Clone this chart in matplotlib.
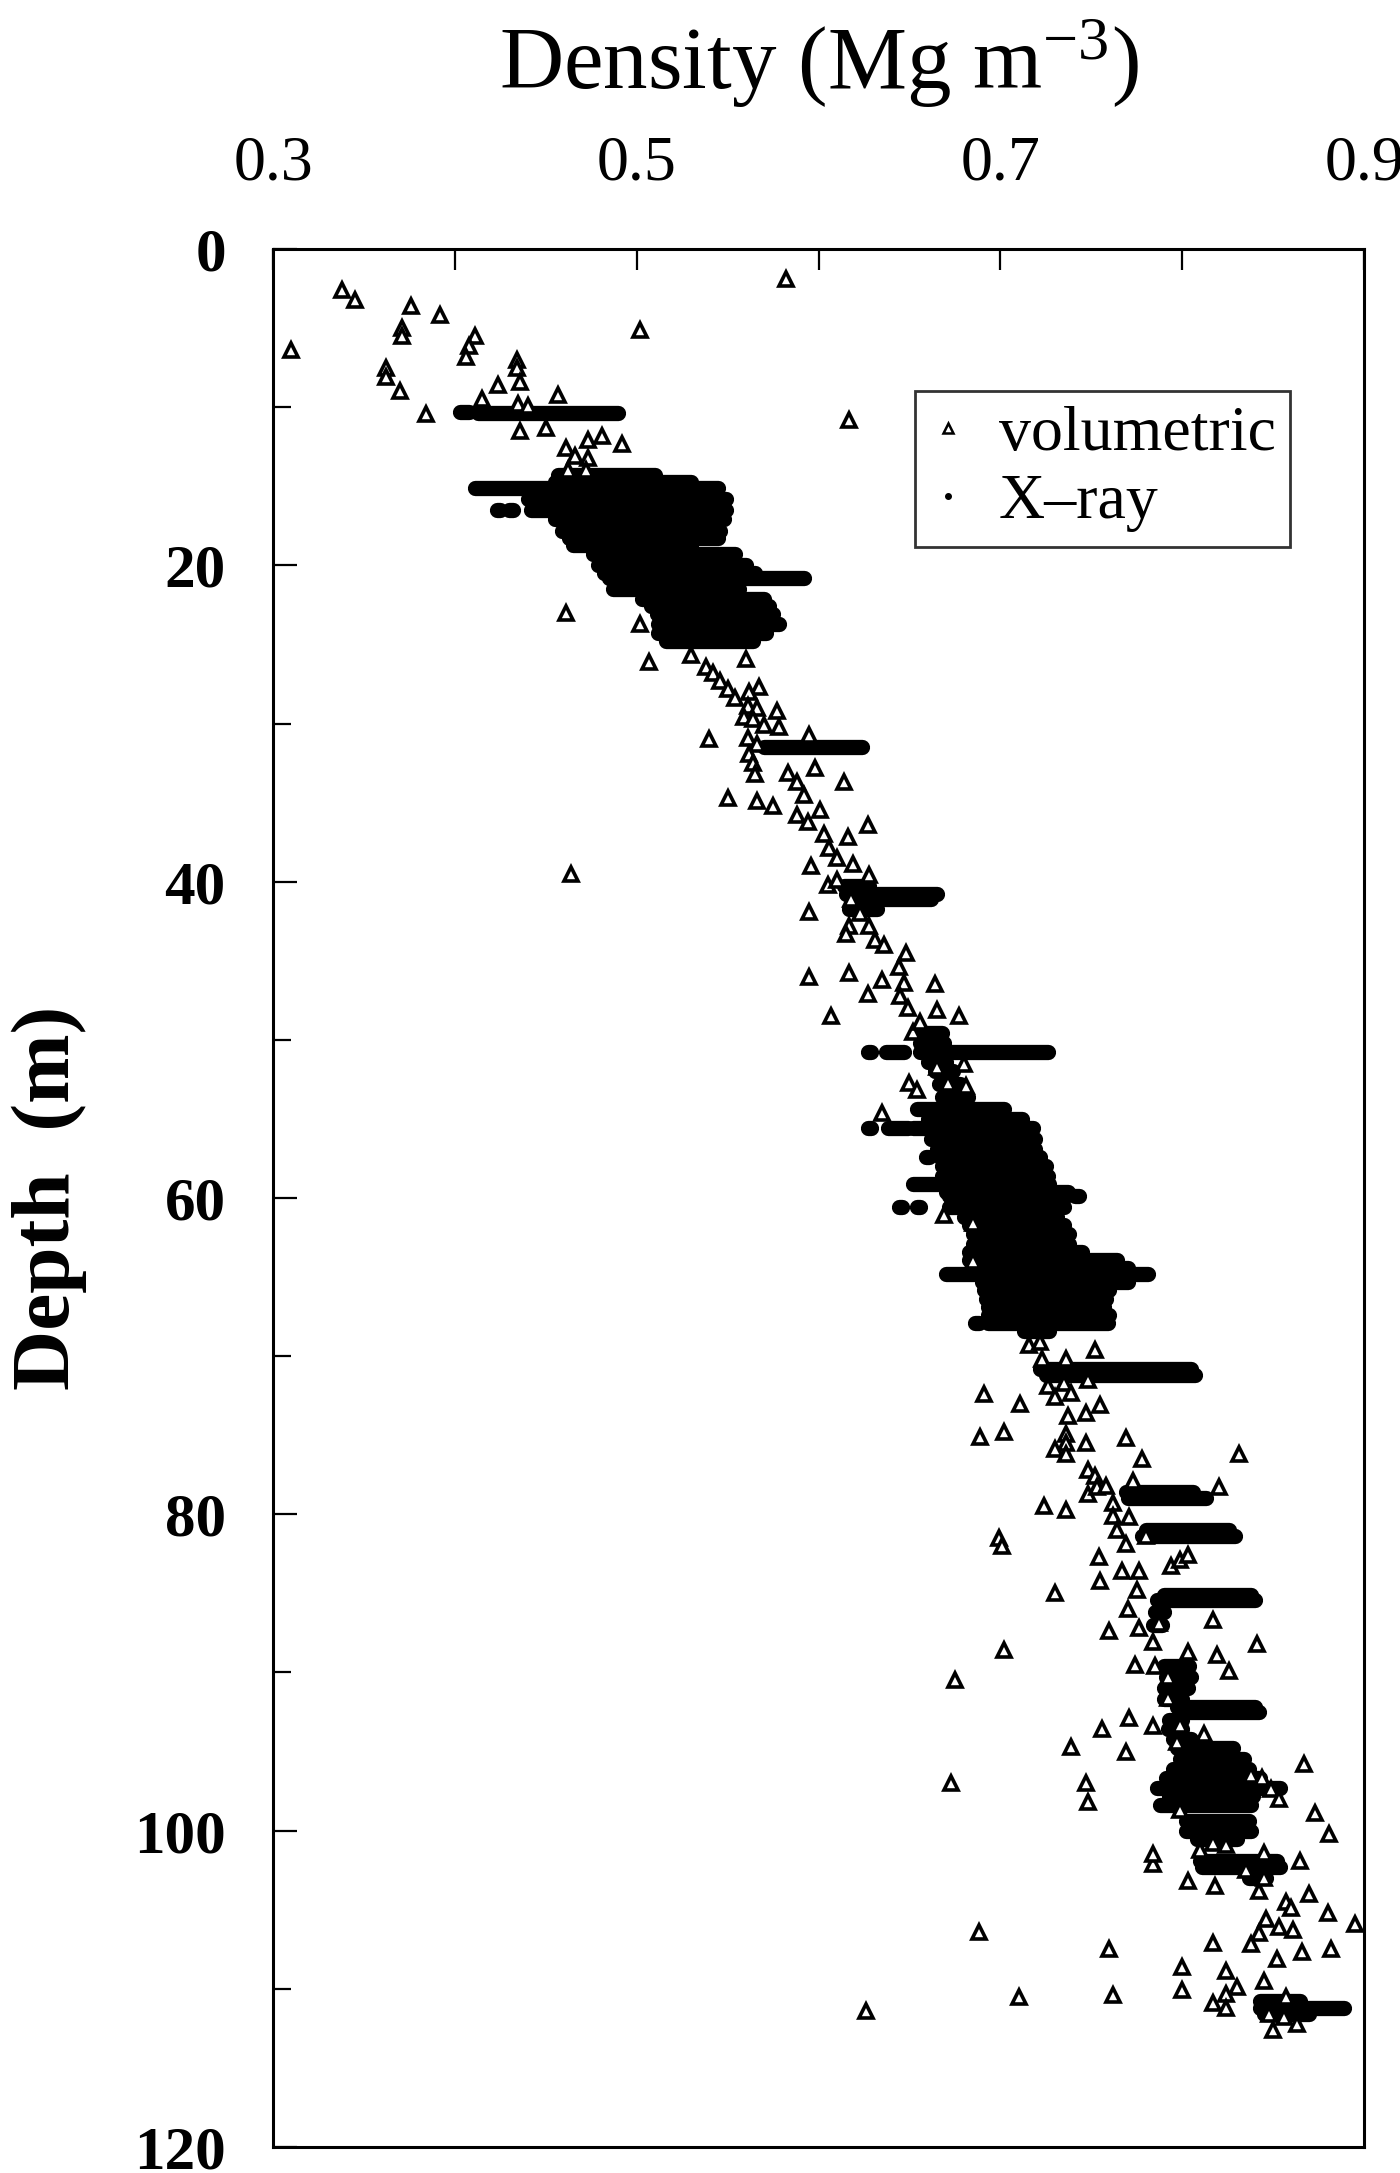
import matplotlib
matplotlib.use("Agg")
import matplotlib.pyplot as plt
from matplotlib.lines import Line2D

plt.rcParams["font.family"] = ["Liberation Serif", "DejaVu Serif"]
plt.rcParams["mathtext.fontset"] = "custom"
plt.rcParams["mathtext.rm"] = "Liberation Serif"
plt.rcParams["mathtext.it"] = "Liberation Serif:italic"

# volumetric samples (density Mg m-3, depth m)
vol_density = [
    0.310, 0.338, 0.345, 0.376, 0.392, 0.371, 0.371, 0.411, 0.408, 0.406,
    0.362, 0.362, 0.370, 0.434, 0.434, 0.436, 0.424, 0.415, 0.457, 0.384,
    0.435, 0.440, 0.436, 0.450, 0.461, 0.473, 0.481, 0.492, 0.466, 0.473,
    0.462, 0.472, 0.582, 0.502, 0.617, 0.461, 0.502, 0.507, 0.530, 0.538,
    0.560, 0.567,
    0.542, 0.546, 0.550, 0.554, 0.562, 0.561, 0.566, 0.559, 0.564, 0.570,
    0.577, 0.578, 0.561, 0.566, 0.562, 0.564, 0.565, 0.595, 0.598, 0.614,
    0.540, 0.550, 0.566, 0.575, 0.583, 0.588, 0.592, 0.588, 0.594, 0.601,
    0.603, 0.606, 0.610, 0.616, 0.619, 0.627, 0.596, 0.605, 0.610, 0.628,
    0.618, 0.623, 0.617, 0.615, 0.628, 0.631, 0.636, 0.595, 0.648, 0.644,
    0.647, 0.645, 0.649, 0.664, 0.665, 0.677, 0.595, 0.617, 0.627, 0.635,
    0.607, 0.652, 0.656, 0.650, 0.654, 0.665, 0.671, 0.680, 0.681, 0.635,
    0.464,
    0.669, 0.685, 0.685, 0.716, 0.722, 0.723, 0.752, 0.736, 0.726, 0.735,
    0.730, 0.739, 0.748, 0.691, 0.711, 0.747, 0.755, 0.737, 0.736, 0.689,
    0.702, 0.736, 0.730, 0.736, 0.747, 0.769, 0.778, 0.831, 0.748, 0.752,
    0.748, 0.753, 0.758, 0.762, 0.773, 0.820, 0.724, 0.736, 0.762, 0.771,
    0.764, 0.769, 0.780, 0.699, 0.701, 0.794, 0.799, 0.803, 0.754, 0.755,
    0.767, 0.776, 0.775, 0.730, 0.770, 0.817, 0.776, 0.760, 0.787, 0.784,
    0.702, 0.803, 0.819, 0.841, 0.774, 0.785,
    0.826, 0.675, 0.673, 0.792, 0.792, 0.771, 0.756, 0.784, 0.799, 0.812,
    0.739, 0.769, 0.797, 0.747, 0.748, 0.867, 0.838, 0.844, 0.849, 0.853,
    0.873, 0.881, 0.799, 0.810, 0.817, 0.824, 0.784, 0.784, 0.845, 0.865,
    0.835, 0.803, 0.818, 0.842, 0.845, 0.857, 0.860, 0.870, 0.880, 0.895,
    0.846, 0.853, 0.861, 0.842, 0.838, 0.817, 0.852, 0.866, 0.882, 0.688,
    0.760, 0.800, 0.824, 0.845, 0.830, 0.824, 0.800, 0.817, 0.824, 0.710,
    0.762, 0.857, 0.848, 0.856, 0.863, 0.850, 0.626,
]
vol_depth = [
    6.4, 2.6, 3.2, 3.6, 4.2, 5.0, 5.5, 5.5, 6.1, 6.8,
    7.5, 8.1, 9.0, 7.0, 7.5, 8.4, 8.6, 9.5, 9.2, 10.4,
    9.8, 9.9, 11.5, 11.3, 12.6, 12.1, 11.8, 12.3, 13.1, 13.2,
    14.0, 14.0, 1.9, 5.1, 10.8, 23.0, 23.7, 26.1, 25.7, 26.4,
    25.9, 27.7,
    26.8, 27.3, 27.8, 28.4, 28.0, 28.9, 29.0, 29.6, 29.7, 30.1,
    29.2, 30.2, 30.9, 31.3, 31.9, 32.5, 33.2, 30.7, 32.8, 33.7,
    31.0, 34.7, 34.9, 35.2, 33.1, 33.7, 34.5, 35.8, 36.2, 35.5,
    37.0, 37.9, 38.5, 37.2, 38.9, 36.4, 39.0, 40.2, 39.9, 39.6,
    41.1, 42.0, 42.8, 43.3, 42.8, 43.7, 44.0, 41.9, 44.5, 45.4,
    46.4, 47.2, 48.0, 46.5, 48.1, 48.5, 46.0, 45.8, 47.1, 46.2,
    48.5, 49.5, 48.9, 52.7, 53.2, 51.7, 52.7, 51.5, 52.9, 54.6,
    39.5,
    61.1, 61.6, 64.0, 69.3, 69.1, 70.2, 69.6, 70.2, 71.9, 71.7,
    72.6, 72.3, 71.5, 72.4, 73.0, 73.6, 73.1, 73.8, 74.9, 75.1,
    74.8, 75.5, 75.9, 76.2, 75.5, 75.2, 76.5, 76.2, 77.2, 77.6,
    78.7, 78.3, 78.2, 79.3, 77.9, 78.3, 79.5, 79.7, 80.1, 80.2,
    81.0, 81.9, 81.4, 81.5, 82.0, 83.3, 82.9, 82.6, 82.7, 84.2,
    83.6, 83.6, 84.8, 85.0, 86.0, 86.7, 87.2, 87.4, 86.9, 88.1,
    88.6, 88.7, 88.9, 88.2, 89.5, 89.6,
    89.9, 90.5, 97.0, 90.3, 91.6, 92.9, 93.6, 93.4, 93.3, 93.9,
    94.7, 95.0, 94.4, 97.0, 98.2, 95.8, 96.5, 96.7, 97.4, 98.0,
    98.9, 100.2, 98.7, 101.2, 100.8, 100.9, 102.1, 101.5, 101.4, 101.9,
    102.5, 103.2, 103.5, 103.8, 103.0, 104.5, 104.9, 104.0, 105.2, 105.9,
    105.6, 106.1, 106.3, 106.5, 107.2, 107.1, 108.1, 107.7, 107.5, 106.4,
    107.5, 108.6, 108.9, 109.5, 109.9, 110.3, 110.1, 110.9, 111.2, 110.5,
    110.4, 110.5, 111.6, 111.8, 112.2, 112.6, 111.4,
]

# X-ray profile: for each depth row, the span of densities it covers
xray_depth = [
    10.3, 10.35,
    14.3, 14.7, 15.1, 15.8, 16.5, 16.5, 16.5, 17.1, 17.8, 18.3, 18.7, 19.3,
    20.0, 20.5, 20.8, 21.5, 22.1, 22.6, 23.1, 23.7, 24.3, 24.8,
    31.5,
    40.3, 40.8, 41.1, 41.7,
    49.6, 50.2, 50.8, 50.8, 50.8, 51.4, 52.0, 52.8, 53.6,
    54.4, 55.0, 55.6, 55.6, 55.6, 56.3, 56.9, 57.4, 57.4, 58.0, 58.6, 59.1,
    59.6, 59.9, 59.9, 60.6, 60.6, 60.6, 61.2, 61.7, 62.3, 62.9, 63.4, 63.9,
    64.4, 64.8, 65.3, 65.8, 66.4, 66.9, 67.4, 67.9, 67.9, 68.4,
    70.8, 71.2, 78.6, 79.0, 81.0, 81.4, 85.1, 85.4, 86.2, 87.0,
    89.6, 90.3, 91.0, 91.7, 92.2, 92.5, 93.0, 93.6, 94.2,
    94.8, 95.5, 96.1, 96.7, 97.3, 97.8, 98.4, 99.4, 100.0, 100.5,
    101.9, 102.3, 103.0,
    110.8, 111.2, 111.6,
]
xray_lo = [
    0.403, 0.413,
    0.457, 0.455, 0.411, 0.440, 0.442, 0.423, 0.430, 0.455, 0.459, 0.463,
    0.465, 0.476, 0.479, 0.482, 0.485, 0.487, 0.503, 0.508, 0.511, 0.512,
    0.512, 0.516,
    0.570,
    0.614, 0.615, 0.620, 0.617,
    0.655, 0.656, 0.627, 0.637, 0.656, 0.660, 0.664, 0.666, 0.668,
    0.654, 0.660, 0.652, 0.638, 0.627, 0.662, 0.665, 0.667, 0.659, 0.668,
    0.668, 0.652,
    0.670, 0.672, 0.741, 0.672, 0.644, 0.654, 0.680, 0.683, 0.685, 0.685,
    0.683, 0.683,
    0.685, 0.670, 0.690, 0.691, 0.692, 0.693, 0.693, 0.693, 0.686, 0.713,
    0.722, 0.725, 0.769, 0.770, 0.780, 0.778, 0.790, 0.786, 0.785, 0.784,
    0.790, 0.791, 0.790, 0.790, 0.797, 0.799, 0.793, 0.792, 0.795,
    0.797, 0.799, 0.795, 0.791, 0.786, 0.793, 0.788, 0.802, 0.802, 0.808,
    0.810, 0.811, 0.837,
    0.843, 0.843, 0.845,
]
xray_hi = [
    0.408, 0.490,
    0.510, 0.530, 0.545, 0.549, 0.549, 0.425, 0.432, 0.548, 0.546, 0.545,
    0.530, 0.554, 0.560, 0.565, 0.592, 0.556, 0.570, 0.573, 0.575, 0.578,
    0.571, 0.564,
    0.624,
    0.628, 0.665, 0.662, 0.632,
    0.668, 0.669, 0.629, 0.647, 0.726, 0.670, 0.674, 0.678, 0.682,
    0.702, 0.712, 0.718, 0.649, 0.629, 0.719, 0.719, 0.722, 0.661, 0.725,
    0.726, 0.727,
    0.737, 0.736, 0.743, 0.735, 0.646, 0.656, 0.731, 0.735, 0.738, 0.738,
    0.745, 0.764,
    0.770, 0.781, 0.770, 0.760, 0.758, 0.757, 0.760, 0.759, 0.688, 0.727,
    0.805, 0.807, 0.806, 0.813, 0.826, 0.829, 0.838, 0.840, 0.790, 0.789,
    0.804, 0.805, 0.803, 0.800, 0.840, 0.842, 0.800, 0.800, 0.805,
    0.828, 0.834, 0.837, 0.843, 0.854, 0.839, 0.838, 0.837, 0.838, 0.830,
    0.852, 0.854, 0.846,
    0.865, 0.889, 0.870,
]

x_ticks = [0.3, 0.5, 0.7, 0.9]
y_ticks = [0, 20, 40, 60, 80, 100, 120]

fig = plt.figure(figsize=(14, 21.73), dpi=100)
ax = fig.add_axes([0.195, 0.012, 0.7793, 0.8734])

xr = ax.hlines(xray_depth, xray_lo, xray_hi, colors="black", linewidth=11)
xr.set_capstyle("round")
ax.plot(vol_density, vol_depth, linestyle="none", marker="^", markersize=10,
        markerfacecolor="white", markeredgecolor="black", markeredgewidth=2.6)

ax.set_xlim(0.3, 0.9)
ax.set_ylim(120, 0)
ax.set_xticks(x_ticks)
ax.set_xticklabels(["%.1f" % v for v in x_ticks])
ax.set_xticks([0.4, 0.6, 0.8], minor=True)
ax.set_yticks(y_ticks)
ax.set_yticks([10, 30, 50, 70, 90, 110], minor=True)

ax.xaxis.set_label_position("top")
ax.set_xlabel(r"Density (Mg m$^{\mathregular{-3}}$)", fontsize=64, labelpad=34)
ax.set_ylabel("Depth  (m)", fontsize=60, fontweight="bold", labelpad=34)

ax.tick_params(which="both", direction="in", top=True, bottom=False,
               left=True, right=False, labeltop=True, labelbottom=False,
               width=1.6, labelsize=46)
ax.tick_params(axis="x", which="major", length=15, pad=40)
ax.tick_params(axis="x", which="minor", length=15)
ax.tick_params(axis="y", which="major", length=17, pad=34, labelsize=44)
ax.tick_params(axis="y", which="minor", length=13)
for lab in ax.get_yticklabels():
    lab.set_fontweight("bold")
for sp in ax.spines.values():
    sp.set_linewidth(2.2)

handles = [
    Line2D([], [], linestyle="none", marker="^", markersize=7,
           markerfacecolor="white", markeredgecolor="black", markeredgewidth=1.8),
    Line2D([], [], linestyle="none", marker=".", markersize=8, color="black"),
]
leg = ax.legend(handles, ["volumetric", "X\u2013ray"], loc="upper left",
                bbox_to_anchor=(0.588, 0.925), fontsize=46, frameon=True,
                fancybox=False, handlelength=0.6, handletextpad=0.5,
                borderpad=0.22, labelspacing=0.15, borderaxespad=0)
leg.get_frame().set_edgecolor("black")
leg.get_frame().set_linewidth(2)

fig.savefig("out.png", dpi=100)
